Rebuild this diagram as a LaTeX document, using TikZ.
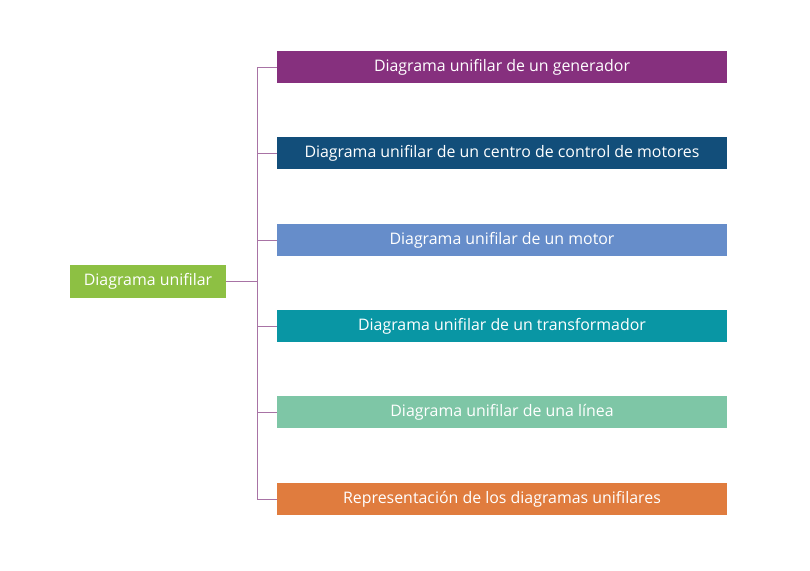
\documentclass[tikz,border=0pt]{standalone}
\usepackage{fontspec}
\setmainfont{Open Sans}
\usepackage{xcolor}
\usepackage{tikz}

\definecolor{rootgreen}{HTML}{8DC043}
\definecolor{genpurple}{HTML}{86307E}
\definecolor{ccmnavy}{HTML}{124E7A}
\definecolor{motorblue}{HTML}{668DCA}
\definecolor{trafoteal}{HTML}{0996A4}
\definecolor{lineamint}{HTML}{7EC6A6}
\definecolor{reporange}{HTML}{E07C3E}
\definecolor{linkpurple}{HTML}{A873A5}

\tikzset{
  item/.style={minimum width=450pt, minimum height=32pt, inner sep=0pt, text=white,
    text height=11.5pt, text depth=2.5pt, font=\fontsize{15.9pt}{18pt}\selectfont},
  link/.style={draw=linkpurple, line width=1pt}
}

\begin{document}
\begin{tikzpicture}[x=1pt, y=-1pt]
        \useasboundingbox (0,0) rectangle (810,570);

        % Define the nodes
        \node[item, fill=rootgreen, minimum width=156pt, minimum height=33pt] (root) at (148, 281) {Diagrama unifilar};
        \node[item, fill=genpurple] (gen) at (502, 67) {Diagrama unifilar de un generador};
        \node[item, fill=ccmnavy] (ccm) at (502, 153) {Diagrama unifilar de un centro de control de motores};
        \node[item, fill=motorblue] (motor) at (502, 240) {Diagrama unifilar de un motor};
        \node[item, fill=trafoteal] (trafo) at (502, 326) {Diagrama unifilar de un transformador};
        \node[item, fill=lineamint] (linea) at (502, 412) {Diagrama unifilar de una línea};
        \node[item, fill=reporange] (repr) at (502, 499) {Representación de los diagramas unifilares};

        % Draw the lines
        \coordinate (trunk) at (257, 281);
        \draw[link] (root.east) -- (trunk);
        \foreach \n in {gen, ccm, motor, trafo, linea, repr}
            \draw[link] (\n.west) -- (trunk |- \n.west) -- (trunk);
    \end{tikzpicture}
\end{document}
